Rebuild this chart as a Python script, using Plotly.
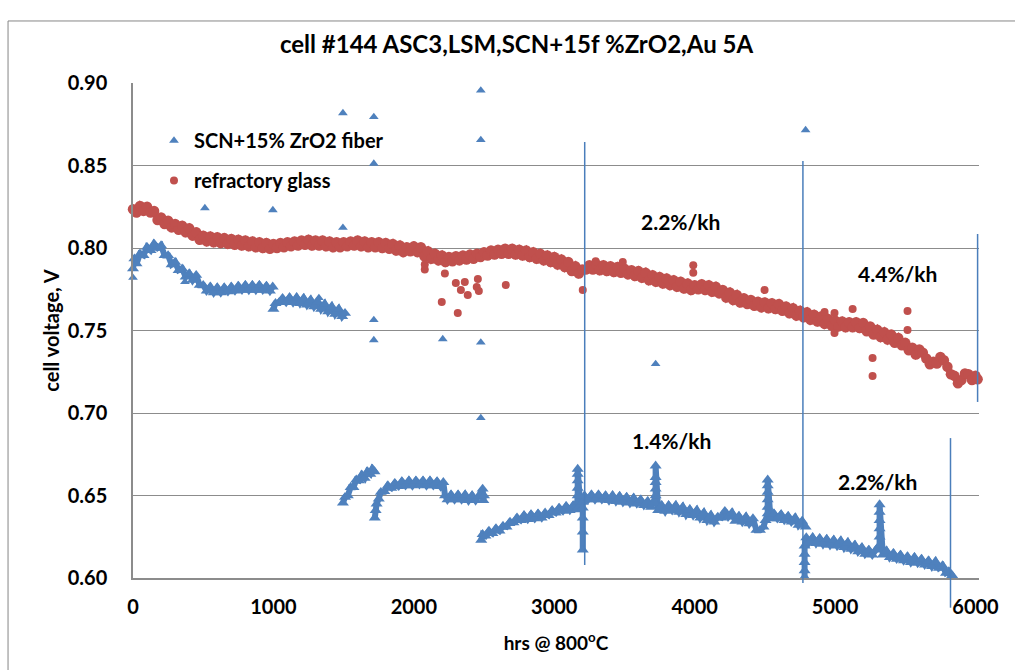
import plotly.graph_objects as go

# ---------------- data (hours, cell voltage) ----------------
red_band = [
    (0, 0.8235), (25, 0.8215), (50, 0.8255), (75, 0.8225), (100, 0.8250), (125, 0.8215),
    (150, 0.8225), (175, 0.8170), (200, 0.8185), (225, 0.8145), (250, 0.8165), (275, 0.8125),
    (300, 0.8145), (325, 0.8110), (350, 0.8135), (375, 0.8095), (400, 0.8120), (425, 0.8075),
    (450, 0.8095), (475, 0.8050), (500, 0.8075), (525, 0.8040), (550, 0.8070), (575, 0.8035),
    (600, 0.8065), (625, 0.8030), (650, 0.8060), (675, 0.8025), (700, 0.8055), (725, 0.8020),
    (750, 0.8050), (775, 0.8015), (800, 0.8045), (825, 0.8010), (850, 0.8040), (875, 0.8005),
    (900, 0.8035), (925, 0.8000), (950, 0.8030), (975, 0.7995), (1000, 0.8025), (1025, 0.8000),
    (1050, 0.8030), (1075, 0.8005), (1100, 0.8035), (1125, 0.8010), (1150, 0.8040), (1175, 0.8015),
    (1200, 0.8045), (1225, 0.8020), (1250, 0.8050), (1275, 0.8015), (1300, 0.8045), (1325, 0.8015),
    (1350, 0.8045), (1375, 0.8010), (1400, 0.8040), (1425, 0.8005), (1450, 0.8035), (1475, 0.8005),
    (1500, 0.8035), (1525, 0.8010), (1550, 0.8040), (1575, 0.8015), (1600, 0.8045), (1625, 0.8010),
    (1650, 0.8040), (1675, 0.8005), (1700, 0.8035), (1725, 0.8005), (1750, 0.8035), (1775, 0.8000),
    (1800, 0.8030), (1825, 0.7995), (1850, 0.8025), (1875, 0.7985), (1900, 0.8015), (1925, 0.7975),
    (1950, 0.8005), (1975, 0.7980), (2000, 0.8010), (2025, 0.7975), (2050, 0.8005), (2075, 0.7950),
    (2100, 0.7980), (2125, 0.7935), (2150, 0.7965), (2175, 0.7925), (2200, 0.7955), (2225, 0.7915),
    (2250, 0.7945), (2275, 0.7920), (2300, 0.7950), (2325, 0.7925), (2350, 0.7955), (2375, 0.7930),
    (2400, 0.7960), (2425, 0.7935), (2450, 0.7965), (2475, 0.7945), (2500, 0.7975), (2525, 0.7955),
    (2550, 0.7985), (2575, 0.7960), (2600, 0.7990), (2625, 0.7965), (2650, 0.7995), (2675, 0.7965),
    (2700, 0.7995), (2725, 0.7960), (2750, 0.7990), (2775, 0.7955), (2800, 0.7985), (2825, 0.7945),
    (2850, 0.7975), (2875, 0.7935), (2900, 0.7965), (2925, 0.7925), (2950, 0.7955), (2975, 0.7915),
    (3000, 0.7945), (3025, 0.7900), (3050, 0.7930), (3075, 0.7885), (3100, 0.7915), (3125, 0.7860),
    (3150, 0.7890), (3175, 0.7845), (3200, 0.7870), (3225, 0.7870), (3250, 0.7895), (3275, 0.7870),
    (3300, 0.7900), (3325, 0.7865), (3350, 0.7895), (3375, 0.7860), (3400, 0.7890), (3425, 0.7855),
    (3450, 0.7885), (3475, 0.7850), (3500, 0.7875), (3525, 0.7840), (3550, 0.7865), (3575, 0.7830),
    (3600, 0.7860), (3625, 0.7820), (3650, 0.7850), (3675, 0.7805), (3700, 0.7835), (3725, 0.7795),
    (3750, 0.7825), (3775, 0.7785), (3800, 0.7815), (3825, 0.7775), (3850, 0.7805), (3875, 0.7765),
    (3900, 0.7795), (3925, 0.7755), (3950, 0.7785), (3975, 0.7745), (4000, 0.7775), (4025, 0.7750),
    (4050, 0.7780), (4075, 0.7745), (4100, 0.7775), (4125, 0.7735), (4150, 0.7765), (4175, 0.7725),
    (4200, 0.7745), (4225, 0.7700), (4250, 0.7730), (4275, 0.7685), (4300, 0.7715), (4325, 0.7670),
    (4350, 0.7695), (4375, 0.7660), (4400, 0.7685), (4425, 0.7650), (4450, 0.7675), (4475, 0.7640),
    (4500, 0.7670), (4525, 0.7635), (4550, 0.7665), (4575, 0.7630), (4600, 0.7660), (4625, 0.7620),
    (4650, 0.7645), (4675, 0.7605), (4700, 0.7635), (4725, 0.7590), (4750, 0.7620), (4775, 0.7580),
    (4800, 0.7610), (4825, 0.7565), (4850, 0.7595), (4875, 0.7555), (4900, 0.7585), (4925, 0.7540),
    (4950, 0.7570), (4975, 0.7530), (5000, 0.7560), (5025, 0.7525), (5050, 0.7555), (5075, 0.7520),
    (5100, 0.7550), (5125, 0.7520), (5150, 0.7550), (5175, 0.7515), (5200, 0.7545), (5225, 0.7495),
    (5250, 0.7525), (5275, 0.7475), (5300, 0.7505), (5325, 0.7460), (5350, 0.7490), (5375, 0.7445),
    (5400, 0.7475), (5425, 0.7425), (5450, 0.7455), (5475, 0.7410), (5500, 0.7425), (5525, 0.7380),
    (5550, 0.7395), (5575, 0.7355), (5600, 0.7385), (5625, 0.7365), (5650, 0.7330), (5675, 0.7295),
    (5700, 0.7310), (5725, 0.7300), (5750, 0.7340), (5775, 0.7320), (5800, 0.7280), (5825, 0.7235),
    (5850, 0.7225), (5875, 0.7180), (5900, 0.7200), (5925, 0.7240), (5950, 0.7235), (5975, 0.7200),
    (6000, 0.7225), (6015, 0.7205),
]
red_outliers = [
    (2078, 0.7870), (2078, 0.7900), (2199, 0.7673), (2221, 0.7845), (2299, 0.7788), (2313, 0.7606),
    (2335, 0.7745), (2363, 0.7794), (2384, 0.7715), (2448, 0.7764), (2456, 0.7812), (2463, 0.7740),
    (2655, 0.7776), (3203, 0.7745), (3295, 0.7920), (3488, 0.7915), (3990, 0.7895), (3990, 0.7850),
    (4498, 0.7745), (4925, 0.7612), (4996, 0.7606), (4996, 0.7485), (5125, 0.7630), (5267, 0.7333),
    (5267, 0.7224), (5516, 0.7618), (5516, 0.7503),
]

blue_seg_a = [
    (0, 0.7875), (10, 0.7935), (25, 0.7905), (50, 0.7965), (75, 0.7955), (100, 0.8005), (125, 0.7985),
    (150, 0.8025), (175, 0.8000), (200, 0.8015), (225, 0.7955), (250, 0.7955), (275, 0.7900),
    (300, 0.7915), (325, 0.7865), (350, 0.7875), (375, 0.7825), (400, 0.7845), (425, 0.7805),
    (450, 0.7835), (475, 0.7775), (500, 0.7775), (525, 0.7740), (550, 0.7765), (575, 0.7730),
    (600, 0.7760), (625, 0.7730), (650, 0.7760), (675, 0.7735), (700, 0.7765), (725, 0.7740),
    (750, 0.7770), (775, 0.7745), (800, 0.7775), (825, 0.7745), (850, 0.7775), (875, 0.7745),
    (900, 0.7775), (925, 0.7745), (950, 0.7770), (975, 0.7740), (995, 0.7765),
]
blue_seg_b = [
    (1000, 0.7630), (1015, 0.7665), (1040, 0.7670), (1065, 0.7695), (1090, 0.7670), (1115, 0.7700),
    (1140, 0.7670), (1165, 0.7700), (1190, 0.7665), (1215, 0.7695), (1240, 0.7655), (1265, 0.7685),
    (1290, 0.7645), (1315, 0.7675), (1340, 0.7630), (1365, 0.7660), (1390, 0.7615), (1415, 0.7645),
    (1440, 0.7600), (1465, 0.7630), (1490, 0.7585), (1510, 0.7605),
]
blue_seg_c = [
    (1495, 0.6455), (1510, 0.6490), (1530, 0.6500), (1550, 0.6550), (1570, 0.6550), (1590, 0.6595),
    (1610, 0.6590), (1630, 0.6625), (1650, 0.6605), (1670, 0.6645), (1690, 0.6630), (1705, 0.6660),
    (1720, 0.6645),
]
blue_seg_d = [
    (1722, 0.6365), (1728, 0.6410), (1735, 0.6450), (1750, 0.6480), (1765, 0.6520), (1790, 0.6525),
    (1815, 0.6560), (1840, 0.6545), (1865, 0.6575), (1890, 0.6555), (1915, 0.6585), (1940, 0.6560),
    (1965, 0.6590), (1990, 0.6560), (2015, 0.6590), (2040, 0.6565), (2065, 0.6590), (2090, 0.6560),
    (2115, 0.6590), (2140, 0.6560), (2165, 0.6585), (2190, 0.6555), (2210, 0.6580), (2222, 0.6500),
    (2240, 0.6475), (2265, 0.6505), (2290, 0.6475), (2315, 0.6505), (2340, 0.6475), (2365, 0.6505),
    (2390, 0.6470), (2415, 0.6500), (2440, 0.6470), (2465, 0.6500), (2490, 0.6540), (2495, 0.6470),
    (2500, 0.6500),
]
blue_seg_e = [
    (2480, 0.6230), (2490, 0.6265), (2510, 0.6255), (2535, 0.6285), (2560, 0.6270), (2585, 0.6300),
    (2610, 0.6285), (2635, 0.6315), (2660, 0.6310), (2685, 0.6340), (2710, 0.6335), (2735, 0.6365),
    (2760, 0.6350), (2785, 0.6380), (2810, 0.6355), (2835, 0.6385), (2860, 0.6360), (2885, 0.6390),
    (2910, 0.6365), (2935, 0.6395), (2960, 0.6380), (2985, 0.6410), (3010, 0.6395), (3035, 0.6425),
    (3060, 0.6405), (3085, 0.6435), (3110, 0.6410), (3135, 0.6440), (3160, 0.6415),
    (3167, 0.6460), (3167, 0.6500), (3167, 0.6545), (3167, 0.6590), (3167, 0.6630), (3167, 0.6660),
    (3185, 0.6440), (3203, 0.6460), (3203, 0.6425), (3203, 0.6364), (3203, 0.6279), (3203, 0.6170),
]
blue_seg_f = [
    (3215, 0.6500), (3240, 0.6475), (3265, 0.6505), (3290, 0.6475), (3315, 0.6505), (3340, 0.6475),
    (3365, 0.6500), (3390, 0.6470), (3415, 0.6500), (3440, 0.6465), (3465, 0.6495), (3490, 0.6460),
    (3515, 0.6490), (3540, 0.6455), (3565, 0.6485), (3590, 0.6450), (3615, 0.6475), (3640, 0.6440),
    (3665, 0.6465), (3690, 0.6430), (3710, 0.6465),
    (3722, 0.6500), (3722, 0.6540), (3722, 0.6580), (3722, 0.6610), (3722, 0.6680),
    (3740, 0.6410), (3765, 0.6440), (3790, 0.6405), (3815, 0.6440), (3840, 0.6410), (3865, 0.6440),
    (3890, 0.6400), (3915, 0.6430), (3940, 0.6385), (3965, 0.6415), (3990, 0.6380), (4015, 0.6410),
    (4040, 0.6365), (4065, 0.6395), (4090, 0.6350), (4115, 0.6380), (4140, 0.6340), (4165, 0.6370),
    (4190, 0.6365), (4215, 0.6405), (4240, 0.6370), (4265, 0.6395), (4290, 0.6345), (4315, 0.6375),
    (4340, 0.6340), (4365, 0.6370), (4390, 0.6330), (4415, 0.6360), (4440, 0.6290), (4465, 0.6290),
    (4490, 0.6310), (4505, 0.6350),
    (4520, 0.6390), (4520, 0.6430), (4520, 0.6475), (4520, 0.6520), (4520, 0.6560), (4520, 0.6595),
    (4540, 0.6360), (4565, 0.6390), (4590, 0.6360), (4615, 0.6385), (4640, 0.6350), (4665, 0.6375),
    (4690, 0.6340), (4715, 0.6365), (4740, 0.6320), (4765, 0.6345), (4790, 0.6310),
]
blue_seg_g = [
    (4783, 0.6005), (4783, 0.6045), (4783, 0.6095), (4783, 0.6145), (4783, 0.6195),
    (4795, 0.6245), (4815, 0.6215), (4840, 0.6245), (4865, 0.6210), (4890, 0.6240), (4915, 0.6205),
    (4940, 0.6235), (4965, 0.6200), (4990, 0.6230), (5015, 0.6195), (5040, 0.6225), (5065, 0.6185),
    (5090, 0.6215), (5115, 0.6175), (5140, 0.6200), (5165, 0.6160), (5190, 0.6185), (5215, 0.6145),
    (5240, 0.6170), (5265, 0.6140), (5290, 0.6170),
    (5317, 0.6200), (5317, 0.6250), (5317, 0.6300), (5317, 0.6350), (5317, 0.6400), (5317, 0.6445),
    (5340, 0.6140), (5365, 0.6165), (5390, 0.6125), (5415, 0.6150), (5440, 0.6115), (5465, 0.6140),
    (5490, 0.6105), (5515, 0.6130), (5540, 0.6095), (5565, 0.6125), (5590, 0.6090), (5615, 0.6115),
    (5640, 0.6080), (5665, 0.6105), (5690, 0.6070), (5715, 0.6100), (5740, 0.6060), (5765, 0.6075),
    (5790, 0.6030), (5810, 0.6040), (5825, 0.6005), (5835, 0.6015),
]
blue_outliers = [
    (0, 0.7820), (370, 0.7794), (512, 0.8242), (996, 0.8230), (1324, 0.7697), (1495, 0.8818),
    (1495, 0.8123), (1715, 0.8794), (1715, 0.8512), (1715, 0.7564), (1715, 0.7442), (2206, 0.7448),
    (2477, 0.8955), (2477, 0.8655), (2477, 0.7428), (2477, 0.6970), (3722, 0.7297), (4790, 0.8715),
]

# slope marker lines: hours, low voltage, high voltage
line_hrs = [3217, 4771, 6015, 5822]
line_v_low = [0.6079, 0.5970, 0.7067, 0.5820]
line_v_high = [0.8642, 0.8527, 0.8085, 0.6848]

rate_labels = ["2.2%/kh", "4.4%/kh", "1.4%/kh", "2.2%/kh"]
rate_hrs = [3900, 5445, 3836, 5302]
rate_v = [0.8158, 0.7848, 0.6836, 0.6582]

x_ticks = [0, 1000, 2000, 3000, 4000, 5000, 6000]
y_min, y_max = 0.60, 0.90

# ---------------- build ----------------
blue_segments = [blue_seg_a, blue_seg_b, blue_seg_c, blue_seg_d, blue_seg_e, blue_seg_f, blue_seg_g]

FONT = "Lato"
BLUE = "#4F81BD"
RED = "#C0504D"
GRID = "#8C8C8C"


def joined(segments):
    """Concatenate segments, separated by gaps so they are not joined."""
    bx, by = [], []
    for seg in segments:
        bx += [p[0] for p in seg] + [None]
        by += [p[1] for p in seg] + [None]
    return bx, by


bbx, bby = joined(blue_segments)
rbx, rby = joined([red_band])

fig = go.Figure()
# dense measurement bands (thousands of overlapping markers in the original)
fig.add_trace(go.Scatter(
    x=bbx, y=bby, mode="lines+markers", name="SCN+15% ZrO2 fiber",
    legendgroup="a", showlegend=False, connectgaps=False,
    line=dict(color=BLUE, width=6),
    marker=dict(symbol="triangle-up", size=10.5, color=BLUE, line=dict(width=0)), cliponaxis=False,
))
fig.add_trace(go.Scatter(
    x=[p[0] for p in blue_outliers], y=[p[1] for p in blue_outliers], mode="markers",
    name="SCN+15% ZrO2 fiber", legendgroup="a", showlegend=True,
    marker=dict(symbol="triangle-up", size=8.5, color=BLUE, line=dict(width=0)), cliponaxis=False,
))
fig.add_trace(go.Scatter(
    x=rbx, y=rby, mode="lines+markers", name="refractory glass",
    legendgroup="b", showlegend=False, connectgaps=False,
    line=dict(color=RED, width=6),
    marker=dict(symbol="circle", size=10.5, color=RED, line=dict(width=0)), cliponaxis=False,
))
fig.add_trace(go.Scatter(
    x=[p[0] for p in red_outliers], y=[p[1] for p in red_outliers], mode="markers",
    name="refractory glass", legendgroup="b", showlegend=True,
    marker=dict(symbol="circle", size=8, color=RED, line=dict(width=0)), cliponaxis=False,
))

shapes = []
for hx, lo, hi in zip(line_hrs, line_v_low, line_v_high):
    shapes.append(dict(
        type="line", xref="x", yref="paper", x0=hx, x1=hx,
        y0=(lo - y_min) / (y_max - y_min), y1=(hi - y_min) / (y_max - y_min),
        line=dict(color="#4A7EBB", width=1.5), layer="above",
    ))
# outer chart-area border
shapes.append(dict(type="rect", xref="paper", yref="paper", x0=-0.1477, x1=1.08, y0=-0.25, y1=1.1253,
                   line=dict(color="#868686", width=1), fillcolor="rgba(0,0,0,0)", layer="below"))

annotations = []
for t, hx, v in zip(rate_labels, rate_hrs, rate_v):
    annotations.append(dict(x=hx, y=v, xref="x", yref="y", text=t, showarrow=False,
                            font=dict(family=FONT, size=21, color="black", weight="bold")))

fig.update_layout(
    width=1015, height=670,
    margin=dict(l=133, r=36, t=83, b=92),
    paper_bgcolor="white", plot_bgcolor="white",
    font=dict(family=FONT, color="black", weight="bold"),
    title=dict(text="cell #144 ASC3,LSM,SCN+15f %ZrO2,Au 5A", x=0.4533, xref="paper", xanchor="center",
               y=1 - 45 / 670, yanchor="middle",
               font=dict(family=FONT, size=24, color="black", weight="bold")),
    showlegend=True,
    legend=dict(x=0.0248, y=0.923, xanchor="left", yanchor="top", bgcolor="rgba(0,0,0,0)",
                font=dict(family=FONT, size=20, color="black", weight="bold"),
                traceorder="grouped", tracegroupgap=11, itemwidth=30),
    shapes=shapes,
    annotations=annotations,
)
fig.update_xaxes(range=[0, 6025], tickvals=x_ticks, ticktext=[str(v) for v in x_ticks],
                 showgrid=False, zeroline=False, showline=True, linecolor=GRID, linewidth=1.5,
                 ticks="", ticklabelstandoff=10,
                 tickfont=dict(family=FONT, size=20, color="black", weight="bold"),
                 title=dict(text="hrs @ 800<sup>o</sup>C", standoff=20,
                            font=dict(family=FONT, size=19, color="black", weight="bold")))
fig.update_yaxes(range=[y_min, y_max], dtick=0.05, tick0=0.60, tickformat=".2f",
                 showgrid=True, gridcolor=GRID, gridwidth=1.3, zeroline=False,
                 showline=True, linecolor=GRID, linewidth=1.5, ticks="", ticklabelstandoff=20,
                 tickfont=dict(family=FONT, size=20, color="black", weight="bold"),
                 title=dict(text="cell voltage, V", standoff=3,
                            font=dict(family=FONT, size=20, color="black", weight="bold")))

fig.write_html("out.html")
